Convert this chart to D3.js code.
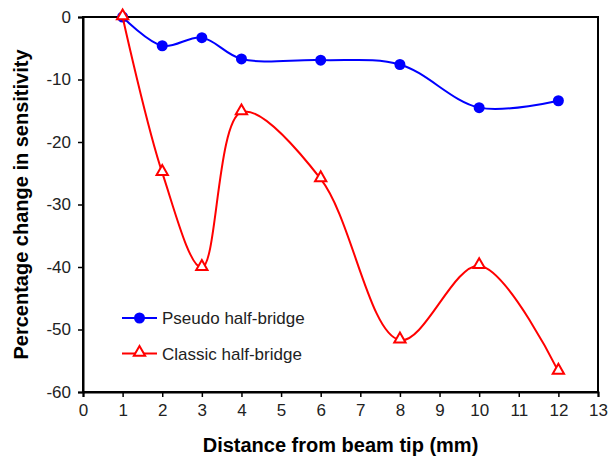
<!DOCTYPE html>
<html>
<head>
<meta charset="utf-8">
<script src="https://cdn.jsdelivr.net/npm/d3@7"></script>
<style>
  body { margin: 0; background: #fff; }
  svg { display: block; font-family: "Liberation Sans", Arial, sans-serif; }
</style>
</head>
<body>
<svg id="chart" width="615" height="456"></svg>
<script>
// distance from beam tip (mm)
const distances = [1, 2, 3, 4, 6, 8, 10, 12];
// percentage change in sensitivity
const pseudo = [0, -4.6, -3.3, -6.7, -6.9, -7.6, -14.5, -13.4];
const classic = [0, -24.9, -40.1, -15.2, -25.9, -51.7, -39.8, -56.7];
const xTicks = d3.range(0, 14);
const yTicks = [0, -10, -20, -30, -40, -50, -60];

const W = 615, H = 456, m = { t: 17, r: 17, b: 64, l: 83 };
const svg = d3.select("#chart");

const x = d3.scaleLinear().domain([0, 13]).range([m.l, W - m.r]);
const y = d3.scaleLinear().domain([-60, 0]).range([H - m.b, m.t]);

// frame
svg.append("rect")
  .attr("x", m.l).attr("y", m.t)
  .attr("width", x(13) - x(0)).attr("height", y(-60) - y(0))
  .attr("fill", "none").attr("stroke", "#000").attr("stroke-width", 2);

// axes
const xAxis = svg.append("g")
  .attr("transform", `translate(0,${y(-60)})`)
  .call(d3.axisBottom(x).tickValues(xTicks).tickSize(5).tickPadding(7));
const yAxis = svg.append("g")
  .attr("transform", `translate(${x(0)},0)`)
  .call(d3.axisLeft(y).tickValues(yTicks).tickSize(5).tickPadding(7)
    .tickFormat((d) => d === 0 ? "0" : "-" + Math.abs(d)));
[xAxis, yAxis].forEach((g) => {
  g.select(".domain").attr("stroke-width", 2);
  g.selectAll(".tick line").attr("stroke-width", 1.5);
  g.selectAll("text").style("font-size", "17px").attr("fill", "#222");
});

// axis titles
svg.append("text")
  .attr("x", (x(0) + x(13)) / 2).attr("y", 452)
  .attr("text-anchor", "middle")
  .style("font-size", "20px").style("font-weight", "bold")
  .text("Distance from beam tip (mm)");
svg.append("text")
  .attr("transform", `translate(28,${(y(0) + y(-60)) / 2}) rotate(-90)`)
  .attr("text-anchor", "middle")
  .style("font-size", "20px").style("font-weight", "bold")
  .text("Percentage change in sensitivity");

const line = (vals) => d3.line()
  .x((d, i) => x(distances[i])).y((d) => y(d))
  .curve(d3.curveCatmullRom.alpha(0.5))(vals);

const tri = d3.symbol().type(d3.symbolTriangle).size(55);

// pseudo half-bridge
svg.append("path").attr("d", line(pseudo))
  .attr("fill", "none").attr("stroke", "#0000ff").attr("stroke-width", 2);
svg.append("g").selectAll("circle").data(pseudo).join("circle")
  .attr("cx", (d, i) => x(distances[i])).attr("cy", (d) => y(d))
  .attr("r", 5.5).attr("fill", "#0000ff");

// classic half-bridge
svg.append("path").attr("d", line(classic))
  .attr("fill", "none").attr("stroke", "#ff0000").attr("stroke-width", 2);
svg.append("g").selectAll("path").data(classic).join("path")
  .attr("d", tri)
  .attr("transform", (d, i) => `translate(${x(distances[i])},${y(d) - 1})`)
  .attr("fill", "#fff").attr("stroke", "#ff0000").attr("stroke-width", 2);

// legend
const legend = [
  { name: "Pseudo half-bridge", color: "#0000ff", mark: "circle" },
  { name: "Classic half-bridge", color: "#ff0000", mark: "tri" },
];
const lg = svg.append("g").selectAll("g").data(legend).join("g")
  .attr("transform", (d, i) => `translate(122,${318 + i * 35.5})`);
lg.append("line").attr("x1", 0).attr("x2", 35)
  .attr("stroke", (d) => d.color).attr("stroke-width", 2);
lg.filter((d) => d.mark === "circle").append("circle")
  .attr("cx", 17.5).attr("r", 5.5).attr("fill", (d) => d.color);
lg.filter((d) => d.mark === "tri").append("path")
  .attr("d", tri).attr("transform", "translate(17.5,-1)")
  .attr("fill", "#fff").attr("stroke", (d) => d.color).attr("stroke-width", 2);
lg.append("text").attr("x", 40).attr("y", 6)
  .style("font-size", "17px").attr("fill", "#222")
  .text((d) => d.name);
</script>
</body>
</html>
